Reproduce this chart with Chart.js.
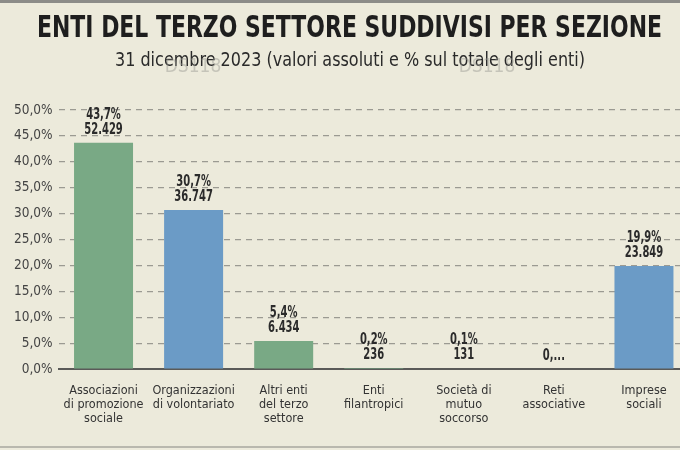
<!DOCTYPE html>
<html>
<head>
<meta charset="utf-8">
<script src="https://cdn.jsdelivr.net/npm/chart.js@4.4.1/dist/chart.umd.min.js"></script>
<style>
  html, body { margin: 0; padding: 0; background: #eceadb; overflow: hidden; }
  #wrap { position: relative; width: 680px; height: 450px; overflow: hidden; }
  #wrap canvas { position: absolute; left: 0; top: 0; }
  #topbar { position: absolute; left: 0; top: 0; width: 680px; height: 3px; background: #8c8c88; }
  #bottomline { position: absolute; left: 0; top: 446px; width: 680px; height: 2px; background: #b9b8ae; }
</style>
</head>
<body>
<div id="wrap">
  <canvas id="grafico" width="700" height="450"></canvas>
  <div id="topbar"></div>
  <div id="bottomline"></div>
</div>
<script>
const titolo = 'ENTI DEL TERZO SETTORE SUDDIVISI PER SEZIONE';
const sottotitolo = '31 dicembre 2023 (valori assoluti e % sul totale degli enti)';
const categorie = [
    ['Associazioni', 'di promozione', 'sociale'],
    ['Organizzazioni', 'di volontariato'],
    ['Altri enti', 'del terzo', 'settore'],
    ['Enti', 'filantropici'],
    ['Società di', 'mutuo', 'soccorso'],
    ['Reti', 'associative'],
    ['Imprese', 'sociali']
];
const percentuali = [43.7, 30.7, 5.4, 0.2, 0.1, 0, 19.9];
const valoriAssoluti = [52429, 36747, 6434, 236, 131, null, 23849];
const colori = ['#79a985', '#6b9bc6', '#79a985', '#79a985', '#79a985', '#79a985', '#6b9bc6'];

const FONT = '"DejaVu Sans Condensed", "Liberation Sans", sans-serif';

// formatta numeri all'italiana
function formatPct(v) {
    return v.toFixed(1).replace('.', ',') + '%';
}
function formatNum(v) {
    return String(v).replace(/\B(?=(\d{3})+(?!\d))/g, '.');
}

// scrive un testo "stretto" centrato su cx, larghezza massima w
function testoStretto(ctx, text, cx, y, w) {
    const m = ctx.measureText(text).width;
    const sx = Math.min(1, w / m);
    ctx.save();
    ctx.translate(cx, y);
    ctx.scale(sx, 1);
    ctx.fillText(text, 0, 0);
    ctx.restore();
}

// titolo e sottotitolo
const intestazione = {
    id: 'intestazione',
    afterDraw(chart) {
        const ctx = chart.ctx;
        ctx.save();
        ctx.textAlign = 'center';
        ctx.textBaseline = 'alphabetic';
        ctx.fillStyle = '#1e1e1e';
        ctx.font = 'bold 30px ' + FONT;
        testoStretto(ctx, titolo, 349.5, 37, 625);
        ctx.fillStyle = '#2a2a2a';
        ctx.font = '20px ' + FONT;
        testoStretto(ctx, sottotitolo, 350, 66, 470);
        // filigrana
        ctx.fillStyle = 'rgba(150,150,145,0.45)';
        ctx.font = '19px ' + FONT;
        ctx.textBaseline = 'middle';
        ctx.fillText('DS118', 193, 67);
        ctx.fillText('DS118', 487, 67);
        ctx.restore();
    }
};

// etichette sopra le barre (testo stretto, come nell'originale)
const etichette = {
    id: 'etichette',
    afterDatasetsDraw(chart) {
        const ctx = chart.ctx;
        const meta = chart.getDatasetMeta(0);
        const sx = 0.74;
        ctx.save();
        ctx.fillStyle = '#2b2b2b';
        ctx.font = 'bold 15px ' + FONT;
        ctx.textAlign = 'center';
        ctx.textBaseline = 'alphabetic';
        meta.data.forEach((bar, i) => {
            ctx.save();
            ctx.translate(bar.x, bar.y);
            ctx.scale(sx, 1);
            if (valoriAssoluti[i] === null) {
                ctx.fillText('0,...', 0, -9);
            } else {
                ctx.fillText(formatNum(valoriAssoluti[i]), 0, -9);
                ctx.fillText(formatPct(percentuali[i]), 0, -24);
            }
            ctx.restore();
        });
        ctx.restore();
    }
};

const ctx = document.getElementById('grafico').getContext('2d');
const chart = new Chart(ctx, {
    type: 'bar',
    data: {
        labels: categorie,
        datasets: [{
            data: percentuali,
            backgroundColor: colori,
            borderWidth: 0,
            barPercentage: 0.655,
            categoryPercentage: 1
        }]
    },
    options: {
        responsive: false,
        animation: false,
        layout: { padding: { left: 0, right: 11, top: 110, bottom: 0 } },
        plugins: {
            legend: { display: false },
            tooltip: { enabled: false }
        },
        scales: {
            x: {
                grid: { display: false },
                border: { display: true, color: '#5a5a58', width: 2 },
                ticks: {
                    color: '#333',
                    font: { family: FONT, size: 12.5, lineHeight: 1.12 },
                    padding: 7,
                    maxRotation: 0,
                    autoSkip: false
                },
                afterFit(scale) { scale.height = 81; }
            },
            y: {
                min: 0,
                max: 50,
                grid: {
                    color: '#9b9a92',
                    lineWidth: 1.2,
                    drawTicks: false
                },
                border: { display: false, dash: [6, 5] },
                ticks: {
                    stepSize: 5,
                    color: '#444',
                    font: { family: FONT, size: 13.5 },
                    padding: 6,
                    callback: v => formatPct(v)
                },
                afterFit(scale) { scale.width = 58.5; }
            }
        }
    },
    plugins: [etichette, intestazione]
});
</script>
</body>
</html>
